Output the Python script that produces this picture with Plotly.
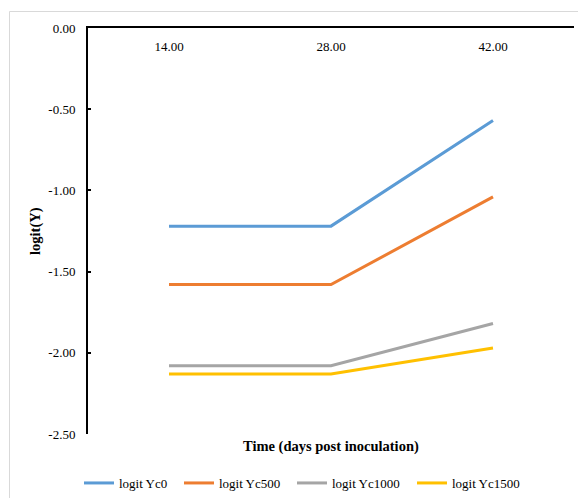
import plotly.graph_objects as go

days = [14, 28, 42]
series_names = ["logit Yc0", "logit Yc500", "logit Yc1000", "logit Yc1500"]
yc0 = [-1.22, -1.22, -0.57]
yc500 = [-1.58, -1.58, -1.04]
yc1000 = [-2.08, -2.08, -1.82]
yc1500 = [-2.13, -2.13, -1.97]
colors = ["#5B9BD5", "#ED7D31", "#A5A5A5", "#FFC000"]
y_ticks = [0, -0.5, -1.0, -1.5, -2.0, -2.5]
y_tick_text = ["0.00", "-0.50", "-1.00", "-1.50", "-2.00", "-2.50"]
x_tick_text = ["14.00", "28.00", "42.00"]

FONT = "Liberation Serif, Times New Roman, serif"

W, H = 578, 498
L, R, T, B = 88, 4, 28, 64
pw, ph = W - L - R, H - T - B

# legend sample left edges (pixels)
legend_x = [79, 179, 292, 412]
legend_y = 483

fig = go.Figure()
legend_ids = ["legend", "legend2", "legend3", "legend4"]
for name, vals, c, lid in zip(series_names, [yc0, yc500, yc1000, yc1500], colors, legend_ids):
    fig.add_trace(go.Scatter(x=days, y=vals, mode="lines", name=name,
                             line=dict(color=c, width=3), legend=lid))

layout_legends = {}
for lid, lx in zip(legend_ids, legend_x):
    layout_legends[lid] = dict(orientation="h", x=(lx - L) / pw, xanchor="left",
                               y=-(legend_y - (T + ph)) / ph, yanchor="middle",
                               font=dict(family=FONT, size=13),
                               bgcolor="rgba(0,0,0,0)", borderwidth=0)

fig.update_layout(
    width=W, height=H,
    margin=dict(l=L, r=R, t=T, b=B, autoexpand=False),
    paper_bgcolor="white", plot_bgcolor="white",
    font=dict(family=FONT, size=13, color="black"),
    showlegend=True,
    xaxis=dict(range=[7, 49], tickvals=days, ticktext=x_tick_text,
               side="top", ticklabelposition="outside", showline=True,
               linecolor="black", linewidth=2, showgrid=False, zeroline=False,
               ticks="", tickfont=dict(family=FONT, size=13),
               ticklabelstandoff=-30, automargin=False),
    yaxis=dict(range=[-2.5, 0], tickvals=y_ticks, ticktext=y_tick_text,
               showline=True, linecolor="black", linewidth=2, showgrid=False,
               zeroline=False, ticks="inside", ticklen=3, tickwidth=2,
               tickcolor="black", tickfont=dict(family=FONT, size=13),
               ticklabelstandoff=8, automargin=False),
    **layout_legends,
)

fig.add_annotation(text="<b>Time (days post inoculation)</b>", xref="paper", yref="paper",
                   x=0.5, y=-(446 - (T + ph)) / ph, showarrow=False,
                   font=dict(family=FONT, size=14.5), xanchor="center", yanchor="middle")
fig.add_annotation(text="<b>logit(Y)</b>", xref="paper", yref="paper",
                   x=(35 - L) / pw, y=0.5, showarrow=False, textangle=-90,
                   font=dict(family=FONT, size=14.5), xanchor="center", yanchor="middle")

fig.add_shape(type="rect", xref="paper", yref="paper",
              x0=(9.5 - L) / pw, x1=1.2, y0=-0.3, y1=(T + ph - 11.5) / ph,
              line=dict(color="#D9D9D9", width=1), layer="below")

fig.write_html("out.html", config={"displayModeBar": False},
               post_script="document.body.style.margin='0';")
